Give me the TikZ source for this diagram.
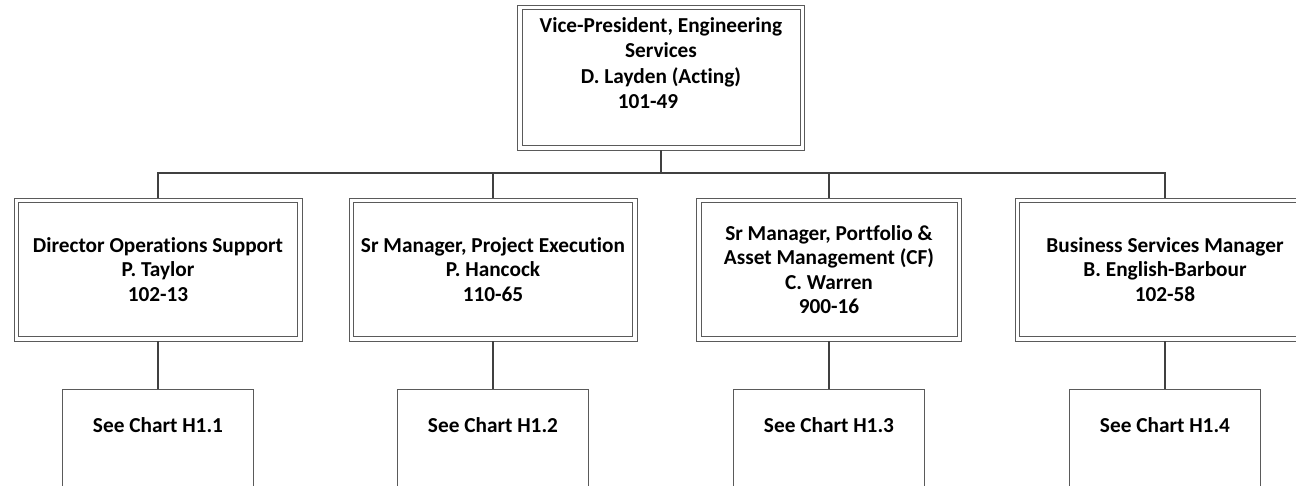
\documentclass[tikz,border=0pt]{standalone}
\usepackage{fontspec}
\setmainfont{Carlito}[Ligatures={NoCommon}]
\usepackage{tikz}
\usetikzlibrary{positioning, calc}
\definecolor{boxgray}{HTML}{5A5A5A}
\definecolor{linkgray}{HTML}{404040}
\tikzset{
  dbox/.style={draw=boxgray, line width=0.8pt, minimum height=143pt, inner sep=0pt,
    path picture={\draw[boxgray, line width=0.8pt]
      ([shift={(4.5pt,4.5pt)}]path picture bounding box.south west) rectangle
      ([shift={(-4.5pt,-4.5pt)}]path picture bounding box.north east);}},
  cbox/.style={draw=boxgray, line width=0.8pt, minimum width=191pt,
               minimum height=130pt, anchor=north},
  lbl/.style={font=\fontsize{21.3}{24.5}\selectfont\bfseries, align=center, text=black},
  link/.style={draw=linkgray, line width=2.4pt}
}

\begin{document}
\begin{tikzpicture}[x=1pt, y=-1pt]
  \useasboundingbox (0,0) rectangle (1296,485);
  \clip (0,0) rectangle (1296,485);
  % top box
  \node[dbox, minimum width=287pt, minimum height=145pt] (vp) at (661,77.5) {};
  \node[lbl, font=\fontsize{21.3}{25.5}\selectfont\bfseries] (vptxt) at ([yshift=14.5pt]vp.center)
    {Vice-President, Engineering\\Services\\D. Layden (Acting)\\101-49\hspace{26pt}\mbox{}};
  % second level
  \node[dbox, minimum width=288pt, lbl] (ops) at (158,269.5)
    {Director Operations Support\\P. Taylor\\102-13};
  \node[dbox, minimum width=288pt, lbl] (proj) at (493,269.5)
    {Sr Manager, Project Execution\\P. Hancock\\110-65};
  \node[dbox, minimum width=265pt, lbl] (port) at (829,269.5)
    {Sr Manager, Portfolio \&\\Asset Management (CF)\\C. Warren\\900-16};
  \node[dbox, minimum width=300pt, lbl] (bus) at (1165,269.5)
    {Business Services Manager\\B. English-Barbour\\102-58};
  % connectors
  \coordinate (split) at (661,173);
  \draw[link] (vp.south) -- (split);
  \foreach \n in {ops, proj, port, bus}
    \draw[link] (split) -| (\n.north);
  % chart boxes
  \foreach \n/\k in {ops/1, proj/2, port/3, bus/4} {
    \node[cbox] (chart\k) at (\n.center |- 0,389) {};
    \node[lbl] (chart\k txt) at ([yshift=-36pt]chart\k.north) {See Chart H1.\k};
    \draw[link] (\n.south) -- (chart\k.north);
  }
\end{tikzpicture}
\end{document}
